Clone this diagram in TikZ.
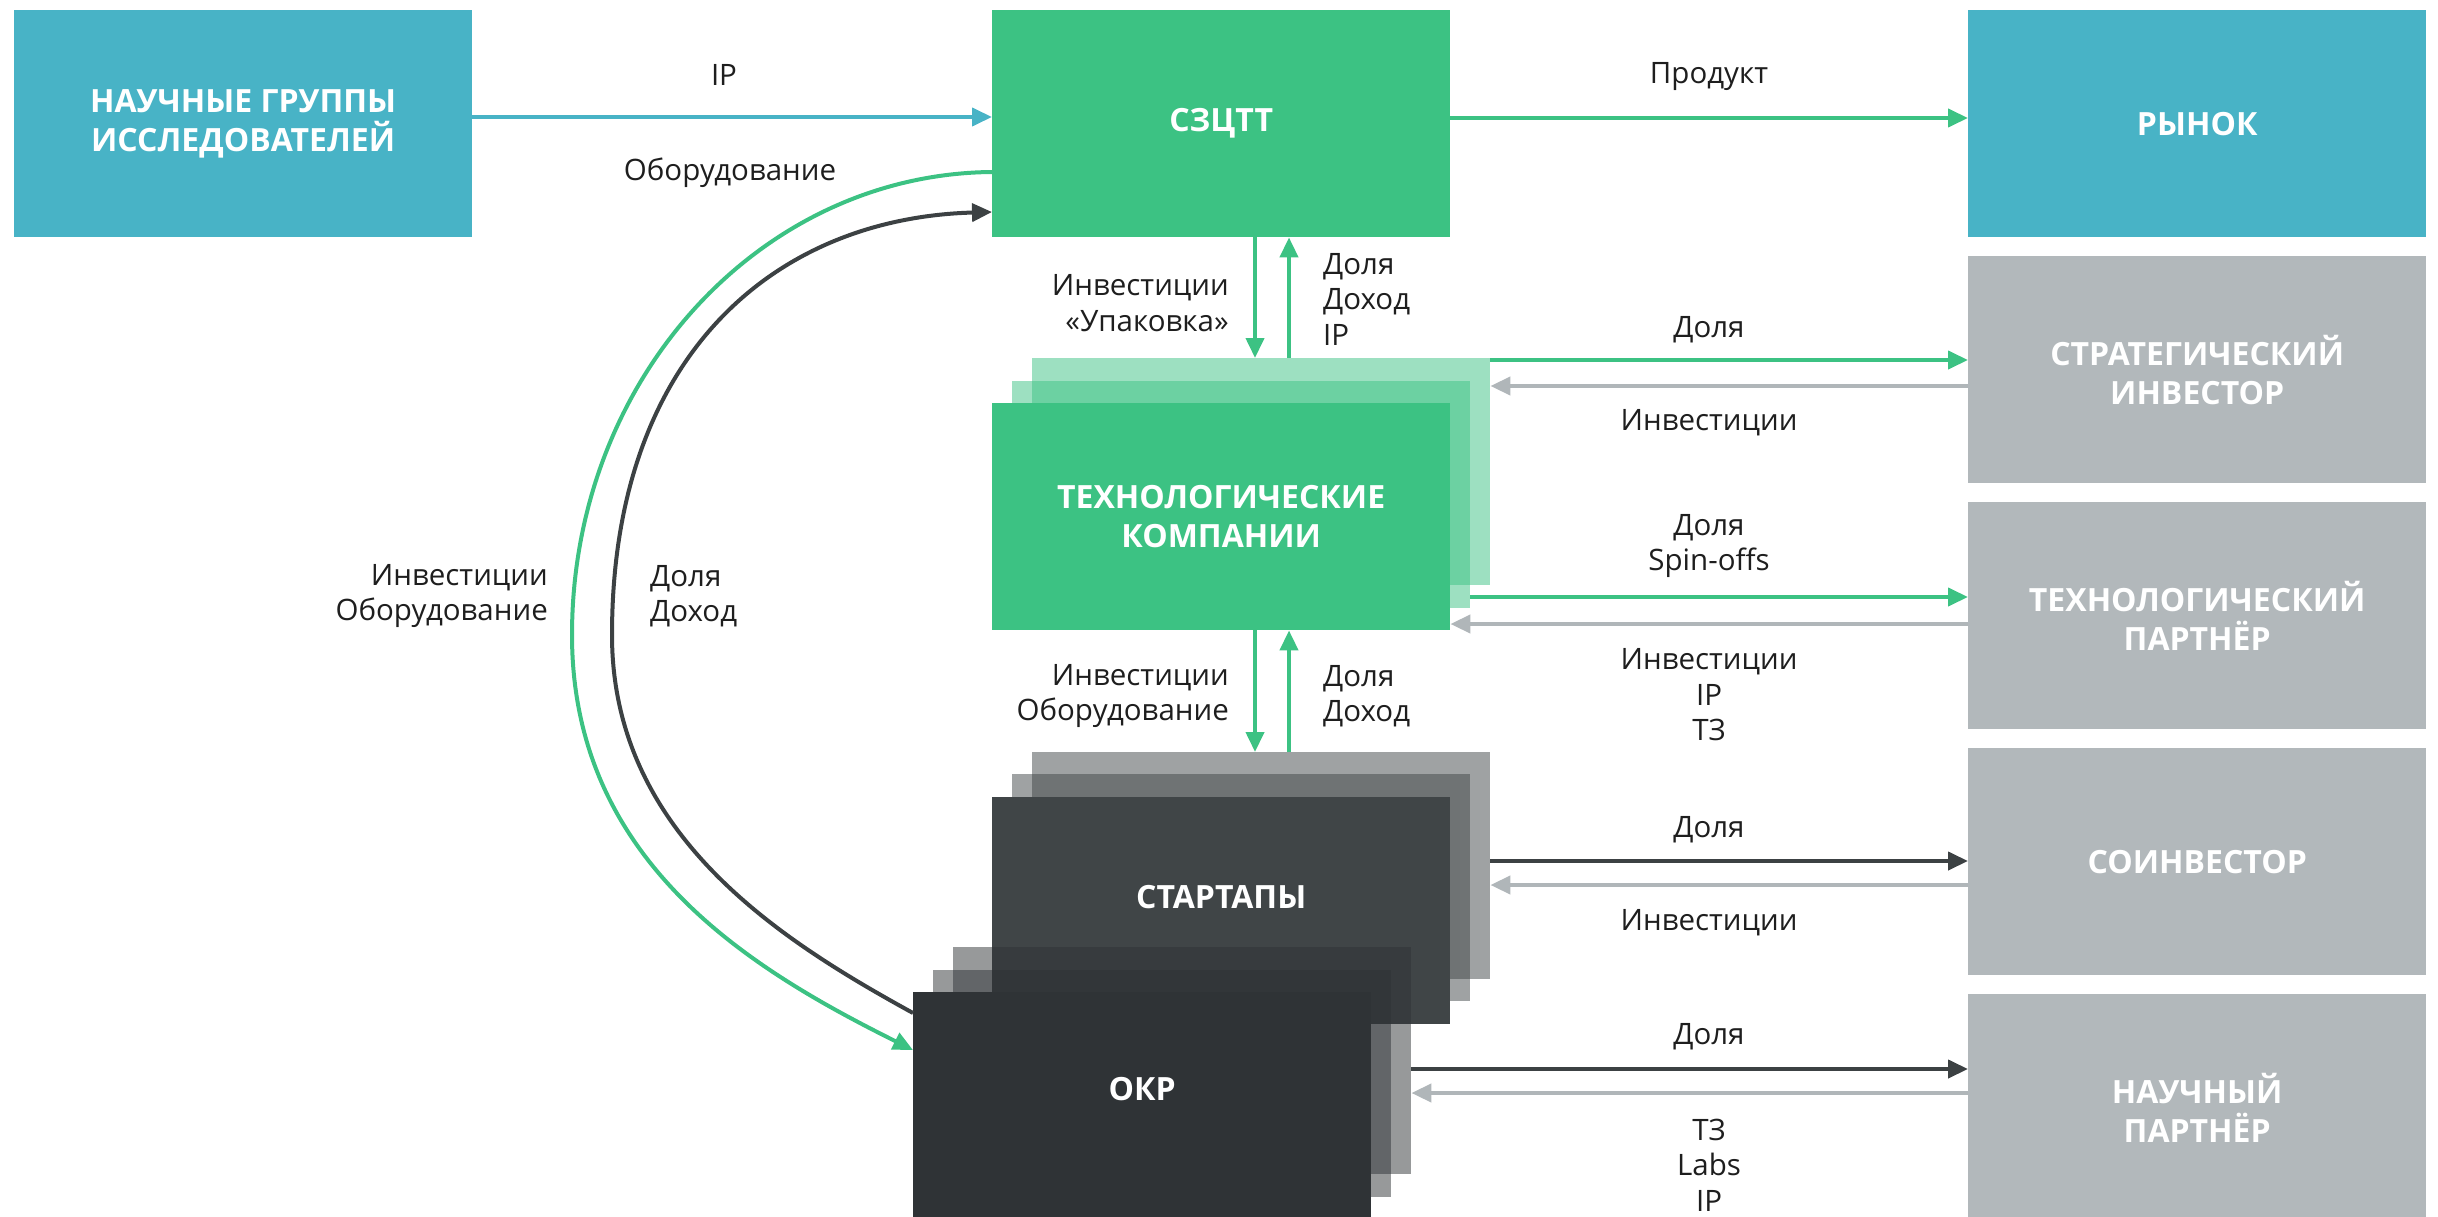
\documentclass[tikz,border=0pt]{standalone}
\usepackage{fontspec}
\setmainfont{Open Sans}
\usetikzlibrary{arrows.meta}
\definecolor{cTeal}{HTML}{48B3C6}
\definecolor{cGreen}{HTML}{3CC283}
\definecolor{cGrayBox}{HTML}{B2B8BB}
\definecolor{cGrayArr}{HTML}{B0B6B9}
\definecolor{cDarkArr}{HTML}{3C4143}
\definecolor{cStart}{HTML}{404547}
\definecolor{cOkr}{HTML}{2F3336}
\definecolor{cLbl}{HTML}{1E1E1E}
\tikzset{
  boxnode/.style={rectangle, inner sep=0pt, minimum width=458pt, minimum height=227pt, anchor=north west,
    text=white, font=\fontsize{32}{39}\selectfont\bfseries, align=center},
  layer/.style={rectangle, inner sep=0pt, minimum width=458pt, minimum height=227pt, anchor=north west, fill opacity=0.5},
  lbl/.style={font=\fontsize{29.5}{35.5}\selectfont, text=cLbl, align=center, inner sep=0pt},
  arr/.style={line width=4pt, -{Triangle[length=20pt,width=18pt]}},
}
\begin{document}
\begin{tikzpicture}[x=1pt,y=-1pt]
\path[use as bounding box] (0,0) rectangle (2438,1217);
% top row
\node[boxnode, fill=cTeal] (ng) at (14,10) {НАУЧНЫЕ ГРУППЫ\\ИССЛЕДОВАТЕЛЕЙ};
\node[boxnode, fill=cGreen] (szctt) at (992,10) {СЗЦТТ};
\node[boxnode, fill=cTeal] (rynok) at (1968,10) {РЫНОК};
% right column
\node[boxnode, fill=cGrayBox] (strat) at (1968,256) {СТРАТЕГИЧЕСКИЙ\\ИНВЕСТОР};
\node[boxnode, fill=cGrayBox] (techp) at (1968,502) {ТЕХНОЛОГИЧЕСКИЙ\\ПАРТНЁР};
\node[boxnode, fill=cGrayBox] (coinv) at (1968,748) {СОИНВЕСТОР};
\node[boxnode, fill=cGrayBox] (sci) at (1968,994) {НАУЧНЫЙ\\ПАРТНЁР};
% tech companies stack
\node[layer, fill=cGreen] (tc3) at (1032,358) {};
\node[layer, fill=cGreen] (tc2) at (1012,381) {};
\node[boxnode, fill=cGreen] (tc) at (992,403) {ТЕХНОЛОГИЧЕСКИЕ\\КОМПАНИИ};
% startups stack
\node[layer, fill=cStart] (st3) at (1032,752) {};
\node[layer, fill=cStart] (st2) at (1012,774) {};
\node[boxnode, fill=cStart] (st) at (992,797) {};
\node[boxnode] (stT) at ([yshift=14pt]st.center) [anchor=center, minimum width=0pt, minimum height=0pt] {СТАРТАПЫ};
% OKR stack
\node[layer, fill=cOkr] (okr3) at (953,947) {};
\node[layer, fill=cOkr] (okr2) at (933,970) {};
\node[boxnode, fill=cOkr] (okr) at (913,992) {};
\node[boxnode] (okrT) at ([yshift=17pt]okr.center) [anchor=center, minimum width=0pt, minimum height=0pt] {ОКР};
% top arrows
\draw[arr, cTeal] (ng.east |- 0,117) -- (szctt.west |- 0,117);
\draw[arr, cGreen] (szctt.east |- 0,118) -- (rynok.west |- 0,118);
\node[lbl] (lIP) at (724,75) {IP};
\node[lbl] (lObor) at (730,173) {Оборудование};
\node[lbl] (lProd) at (1709,77) {Продукт};
% vertical arrows
\draw[arr, cGreen] (szctt.south -| 1255,0) -- (tc3.north -| 1255,0);
\draw[arr, cGreen] (tc3.north -| 1289,0) -- (szctt.south -| 1289,0);
\node[lbl, anchor=east, align=right] (lInvUp) at (1229,303) {Инвестиции\\«Упаковка»};
\node[lbl, anchor=west, align=left] (lDolUp) at (1323,299) {Доля\\Доход\\IP};
\draw[arr, cGreen] (tc.south -| 1255,0) -- (st3.north -| 1255,0);
\draw[arr, cGreen] (st3.north -| 1289,0) -- (tc.south -| 1289,0);
\node[lbl, anchor=east, align=right] (lInvLo) at (1229,696) {Инвестиции\\Оборудование};
\node[lbl, anchor=west, align=left] (lDolLo) at (1323,696) {Доля\\Доход};
% right side arrows
\draw[arr, cGreen] (tc3.east |- 0,360) -- (strat.west |- 0,360);
\draw[arr, cGrayArr] (strat.west |- 0,386) -- (tc3.east |- 0,386);
\node[lbl] (lD1) at (1709,330) {Доля};
\node[lbl] (lI1) at (1709,423) {Инвестиции};
\draw[arr, cGreen] (tc2.east |- 0,597) -- (techp.west |- 0,597);
\draw[arr, cGrayArr] (techp.west |- 0,624) -- (tc.east |- 0,624);
\node[lbl] (lD2) at (1709,546) {Доля\\Spin-offs};
\node[lbl] (lI2) at (1709,695) {Инвестиции\\IP\\ТЗ};
\draw[arr, cDarkArr] (st3.east |- 0,861) -- (coinv.west |- 0,861);
\draw[arr, cGrayArr] (coinv.west |- 0,885) -- (st3.east |- 0,885);
\node[lbl] (lD3) at (1709,830) {Доля};
\node[lbl] (lI3) at (1709,923) {Инвестиции};
\draw[arr, cDarkArr] (okr3.east |- 0,1069) -- (sci.west |- 0,1069);
\draw[arr, cGrayArr] (sci.west |- 0,1093) -- (okr3.east |- 0,1093);
\node[lbl] (lD4) at (1709,1037) {Доля};
\node[lbl] (lI4) at (1709,1165) {ТЗ\\Labs\\IP};
% arcs
\draw[arr, cGreen] (szctt.west |- 0,172) .. controls (760,174) and (572,379) .. (572,635)
   .. controls (572,865) and (757,972) .. (okr.west |- 0,1050);
\draw[arr, cDarkArr] (okr.west |- 0,1013) .. controls (782,941) and (612,835) .. (612,635)
   .. controls (612,355) and (775,218) .. (szctt.west |- 0,212);
\node[lbl, anchor=east, align=right] (lInvArc) at (548,596) {Инвестиции\\Оборудование};
\node[lbl, anchor=west, align=left] (lDolArc) at (650,596) {Доля\\Доход};
\end{tikzpicture}
\end{document}
